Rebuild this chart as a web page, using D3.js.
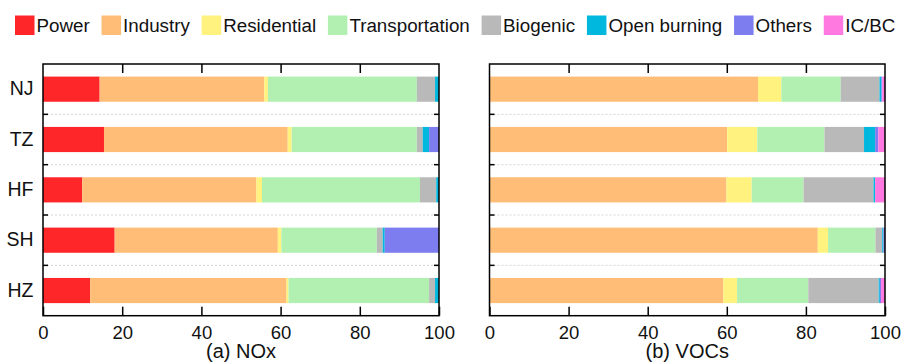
<!DOCTYPE html>
<html>
<head>
<meta charset="utf-8">
<script src="https://cdn.jsdelivr.net/npm/d3@7"></script>
<style>
  body { margin: 0; background: #fff; }
  svg { display: block; font-family: "Liberation Sans", Arial, sans-serif; }
</style>
</head>
<body>
<svg id="chart" width="902" height="364"></svg>
<script>
// ==== data ====
var cities = ["NJ", "TZ", "HF", "SH", "HZ"];
var sectors = ["Power", "Industry", "Residential", "Transportation", "Biogenic", "Open burning", "Others", "IC/BC"];
var sectorColors = ["#ff262a", "#ffbd78", "#fff27e", "#b2f0b2", "#b9b9b9", "#00b8de", "#7d7df0", "#ff79e0"];
var xTicks = [0, 20, 40, 60, 80, 100];

// NOx shares (%), one row per city, columns follow `sectors`
var noxNJ = [14.3, 41.6, 0.9, 37.6, 4.6, 1.0, 0, 0];
var noxTZ = [15.4, 46.4, 1.0, 31.6, 1.5, 1.6, 2.5, 0];
var noxHF = [9.9, 44.0, 1.4, 39.9, 4.1, 0.7, 0, 0];
var noxSH = [18.1, 41.2, 0.9, 24.1, 1.5, 0.5, 13.7, 0];
var noxHZ = [11.9, 49.6, 0.5, 35.5, 1.5, 1.0, 0, 0];

// VOCs shares (%)
var vocNJ = [0, 67.9, 5.9, 15.0, 9.8, 0.5, 0.2, 0.7];
var vocTZ = [0, 60.1, 7.6, 17.0, 10.0, 2.8, 0.8, 1.7];
var vocHF = [0, 59.9, 6.4, 13.1, 17.7, 0.4, 0, 2.5];
var vocSH = [0, 83.0, 2.6, 12.0, 1.7, 0.3, 0.4, 0];
var vocHZ = [0, 59.1, 3.5, 18.0, 17.8, 0.3, 0.3, 1.0];

var panelTitles = ["(a) NOx", "(b) VOCs"];

// ==== layout ====
var svg = d3.select("#chart");
var tickFont = 18.5, catFont = 19.5, titleFont = 20, legendFont = 18.8;
var plotTop = 64, plotBottom = 315.7;
var panels = [
  { x0: 43, x1: 439, rows: [noxNJ, noxTZ, noxHF, noxSH, noxHZ], labels: true },
  { x0: 489.5, x1: 885, rows: [vocNJ, vocTZ, vocHF, vocSH, vocHZ], labels: false }
];

var y = d3.scaleBand().domain(cities).range([plotTop, plotBottom]).paddingInner(0.5).paddingOuter(0.25);

function toRecords(rows) {
  return rows.map(function (r, i) {
    var o = { city: cities[i] };
    sectors.forEach(function (s, j) { o[s] = r[j]; });
    return o;
  });
}

var stack = d3.stack().keys(sectors);

panels.forEach(function (p, pi) {
  var x = d3.scaleLinear().domain([0, 100]).range([p.x0, p.x1]);
  var g = svg.append("g");

  // dotted separators between cities
  var bounds = cities.slice(1).map(function (c) { return y(c) - y.step() * y.paddingInner() / 2; });
  g.selectAll("line.grid").data(bounds).enter().append("line")
    .attr("class", "grid")
    .attr("x1", p.x0).attr("x2", p.x1)
    .attr("y1", function (d) { return d; }).attr("y2", function (d) { return d; })
    .attr("stroke", "#d4d4d4").attr("stroke-width", 1).attr("stroke-dasharray", "2,2");

  // bars
  var series = stack(toRecords(p.rows));
  g.selectAll("g.layer").data(series).enter().append("g")
    .attr("class", "layer")
    .attr("fill", function (d, i) { return sectorColors[i]; })
    .selectAll("rect").data(function (d) { return d; }).enter().append("rect")
    .attr("x", function (d) { return x(d[0]); })
    .attr("width", function (d) { return Math.max(0, x(d[1]) - x(d[0])); })
    .attr("y", function (d) { return y(d.data.city); })
    .attr("height", y.bandwidth());

  // bottom axis with inward ticks
  var xb = g.append("g").attr("transform", "translate(0," + plotBottom + ")")
    .call(d3.axisBottom(x).tickValues(xTicks).tickSize(-9).tickPadding(10.5));
  xb.select(".domain").remove();
  xb.selectAll("line").attr("stroke", "#000").attr("stroke-width", 1.5);
  xb.selectAll("text").attr("font-size", tickFont).attr("fill", "#111").attr("font-family", "Liberation Sans, Arial, sans-serif");

  // top axis ticks, no labels
  var xt = g.append("g").attr("transform", "translate(0," + plotTop + ")")
    .call(d3.axisTop(x).tickValues(xTicks.slice(1, -1)).tickSize(-9).tickFormat(""));
  xt.select(".domain").remove();
  xt.selectAll("line").attr("stroke", "#000").attr("stroke-width", 1.5);

  // y ticks at band boundaries, both sides
  [p.x0, p.x1].forEach(function (xx, side) {
    g.selectAll(null).data(bounds).enter().append("line")
      .attr("x1", xx).attr("x2", side === 0 ? xx + 5 : xx - 5)
      .attr("y1", function (d) { return d; }).attr("y2", function (d) { return d; })
      .attr("stroke", "#000").attr("stroke-width", 1.5);
  });

  if (p.labels) {
    var ya = g.append("g").attr("transform", "translate(" + p.x0 + ",0)")
      .call(d3.axisLeft(y).tickSize(0).tickPadding(9.5));
    ya.select(".domain").remove();
    ya.selectAll("text").attr("font-size", catFont).attr("fill", "#111").attr("font-family", "Liberation Sans, Arial, sans-serif");
  }

  // frame
  g.append("rect")
    .attr("x", p.x0).attr("y", plotTop)
    .attr("width", p.x1 - p.x0).attr("height", plotBottom - plotTop)
    .attr("fill", "none").attr("stroke", "#000").attr("stroke-width", 1.5);

  g.append("text")
    .attr("x", (p.x0 + p.x1) / 2).attr("y", 358)
    .attr("text-anchor", "middle")
    .attr("font-size", titleFont).attr("fill", "#111")
    .text(panelTitles[pi]);
});

// ==== legend ====
var legend = svg.append("g");
var lx = 15;
sectors.forEach(function (s, i) {
  legend.append("rect")
    .attr("x", lx).attr("y", 15.5)
    .attr("width", 19.5).attr("height", 19.5)
    .attr("fill", sectorColors[i]);
  var t = legend.append("text")
    .attr("x", lx + 21.5).attr("y", 31.8)
    .attr("font-size", legendFont).attr("fill", "#111")
    .text(s);
  lx += 21.5 + t.node().getComputedTextLength() + 11.8;
});
</script>
</body>
</html>
